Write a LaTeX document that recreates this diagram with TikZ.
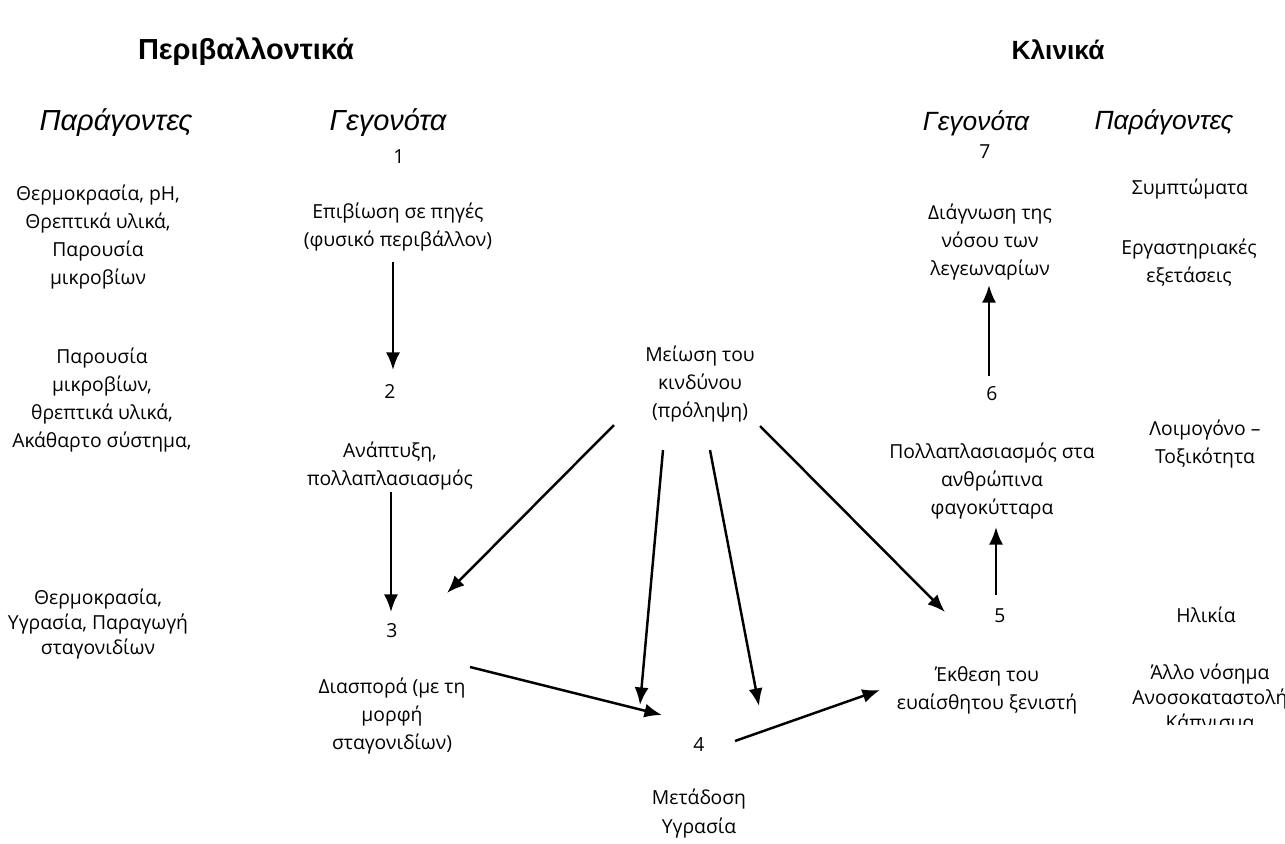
\documentclass[tikz,border=0pt]{standalone}
\usepackage{fontspec}
\setmainfont{Open Sans}
\newfontfamily\hdrfont{Liberation Sans}
\usetikzlibrary{arrows.meta}

\begin{document}
\begin{tikzpicture}[x=0.02cm, y=-0.02cm,
	  every node/.style = {inner sep=0pt, align=center},
	  txt/.style = {font=\fontsize{11}{15.9}\selectfont},
	  hdr/.style = {font=\hdrfont\fontsize{16.5}{20}\selectfont\bfseries},
	  col/.style = {font=\hdrfont\fontsize{16.5}{20}\selectfont\itshape},
	  colsm/.style = {font=\hdrfont\fontsize{15}{18}\selectfont\itshape},
	  arr/.style = {line width=1.4pt, -{Latex[length=10pt,width=8pt]}}]
	  \useasboundingbox (0,0) rectangle (1285,843);
	  % headings
	  \node[hdr] (env) at (246,52) {Περιβαλλοντικά};
	  \node[hdr, font=\hdrfont\fontsize{15}{18}\selectfont\bfseries] (clin) at (1058,50) {Κλινικά};
	  \node[col] (facL) at (116,123) {Παράγοντες};
	  \node[col] (evL) at (388,123) {Γεγονότα};
	  \node[colsm] (evR) at (976,123) {Γεγονότα};
	  \node[colsm] (facR) at (1164,122) {Παράγοντες};
	  % events
	  \node[txt] (n1) at (399,157) {1};
	  \node[txt] (ev1) at (398,227) {Επιβίωση σε πηγές\\(φυσικό περιβάλλον)};
	  \node[txt] (n2) at (390,391) {2};
	  \node[txt] (ev2) at (390,466) {Ανάπτυξη,\\πολλαπλασιασμός};
	  \node[txt] (n3) at (392,631) {3};
	  \node[txt] (ev3) at (392,716) {Διασπορά (με τη\\μορφή\\σταγονιδίων)};
	  \node[txt] (n4) at (699,745) {4};
	  \node[txt] (ev4) at (699,799) {Μετάδοση};
	  \node[txt] (fac4) at (699,828) {Υγρασία};
	  \node[txt] (prev) at (700,384) {Μείωση του\\κινδύνου\\(πρόληψη)};
	  \node[txt] (n5) at (1000,616) {5};
	  \node[txt] (ev5) at (987,690) {Έκθεση του\\ευαίσθητου ξενιστή};
	  \node[txt] (n6) at (992,394) {6};
	  \node[txt] (ev6) at (992,481) {Πολλαπλασιασμός στα\\ανθρώπινα\\φαγοκύτταρα};
	  \node[txt] (n7) at (985,152) {7};
	  \node[txt] (ev7) at (990,242) {Διάγνωση της\\νόσου των\\λεγεωναρίων};
	  % factors
	  \node[txt] (facL1) at (98,237) {Θερμοκρασία, pH,\\Θρεπτικά υλικά,\\Παρουσία\\μικροβίων};
	  \node[txt] (facL2) at (102,400) {Παρουσία\\μικροβίων,\\θρεπτικά υλικά,\\Ακάθαρτο σύστημα,};
	  \node[txt, font=\fontsize{11}{14.2}\selectfont] (facL3) at (98,624) {Θερμοκρασία,\\Υγρασία, Παραγωγή\\σταγονιδίων};
	  \node[txt] (facR1) at (1190,189) {Συμπτώματα};
	  \node[txt] (facR2) at (1189,263) {Εργαστηριακές\\εξετάσεις};
	  \node[txt] (facR3) at (1205,444) {Λοιμογόνο –\\Τοξικότητα};
	  \node[txt] (facR4) at (1206,615) {Ηλικία};
	  \begin{scope}
	    \clip (1080,640) rectangle (1285,724);
	    \node[txt, font=\fontsize{11}{14.2}\selectfont] (facR5) at (1210,699) {Άλλο νόσημα\\Ανοσοκαταστολή\\Κάπνισμα};
	  \end{scope}
	  % arrows
	  \draw[arr] ([shift={(-5,35)}]ev1.center) -- ([shift={(3,-21)}]n2.center);
	  \draw[arr] ([shift={(1,26)}]ev2.center) -- ([shift={(-1,-19)}]n3.center);
	  \draw[arr] ([shift={(78,-49)}]ev3.center) -- ([shift={(-37,-30)}]n4.center);
	  \draw[arr] ([shift={(36,-4)}]n4.center) -- ([shift={(-107,0)}]ev5.center);
	  \draw[arr] ([shift={(-4,-21)}]n5.center) -- ([shift={(4,46)}]ev6.center);
	  \draw[arr] ([shift={(-3,-18)}]n6.center) -- ([shift={(-1,43)}]ev7.center);
	  \draw[arr] ([shift={(-86,41)}]prev.center) -- ([shift={(55,-38)}]n3.center);
	  \draw[arr] ([shift={(-37,66)}]prev.center) -- ([shift={(-59,-40)}]n4.center);
	  \draw[arr] ([shift={(10,66)}]prev.center) -- ([shift={(60,-39)}]n4.center);
	  \draw[arr] ([shift={(60,42)}]prev.center) -- ([shift={(-55,-4)}]n5.center);
	\end{tikzpicture}
\end{document}
